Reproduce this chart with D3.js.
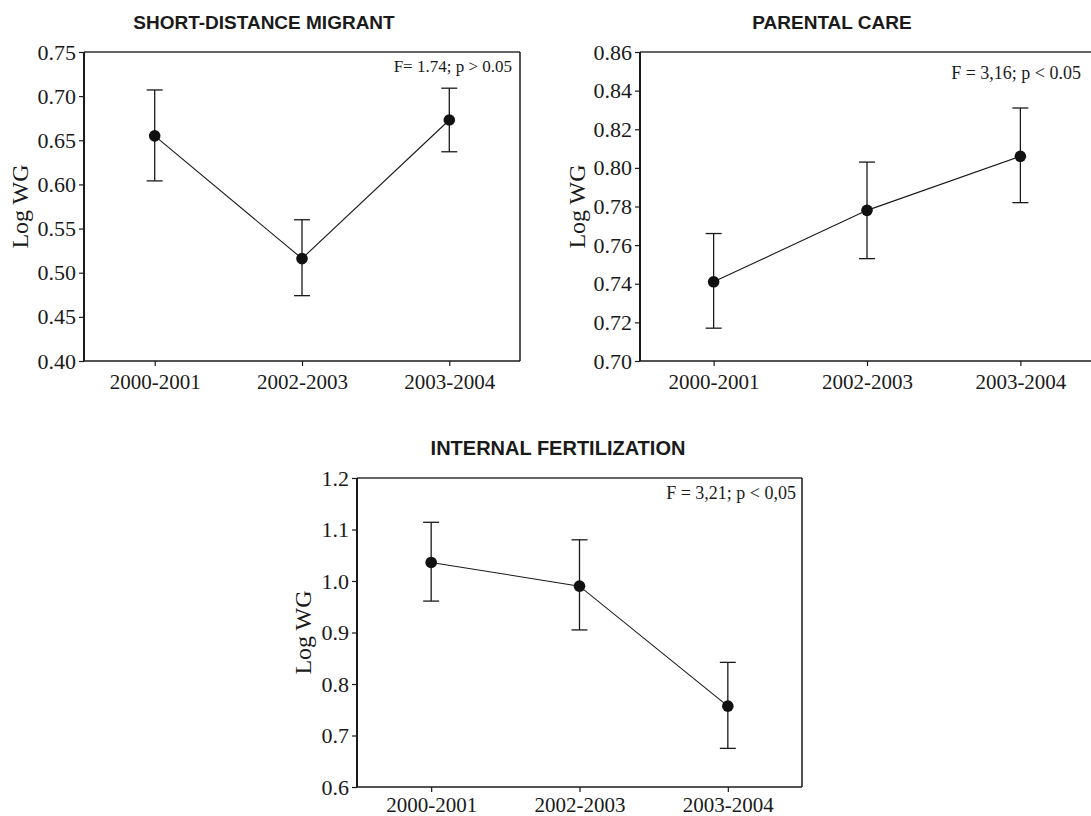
<!DOCTYPE html>
<html>
<head>
<meta charset="utf-8">
<script src="https://cdn.jsdelivr.net/npm/d3@7"></script>
<style>
  body { margin: 0; background: #fff; }
  svg { display: block; }
</style>
</head>
<body>
<div id="vis"></div>
<script>
// periods on the x axis (same for all three panels)
var periods = ["2000-2001", "2002-2003", "2003-2004"];

// short-distance migrant
var migrantMean = [0.655, 0.516, 0.673];
var migrantLow  = [0.604, 0.474, 0.637];
var migrantHigh = [0.707, 0.560, 0.709];
var migrantTicks = [0.40, 0.45, 0.50, 0.55, 0.60, 0.65, 0.70, 0.75];

// parental care
var careMean = [0.741, 0.778, 0.806];
var careLow  = [0.717, 0.753, 0.782];
var careHigh = [0.766, 0.803, 0.831];
var careTicks = [0.70, 0.72, 0.74, 0.76, 0.78, 0.80, 0.82, 0.84, 0.86];

// internal fertilization
var fertMean = [1.036, 0.990, 0.757];
var fertLow  = [0.961, 0.905, 0.675];
var fertHigh = [1.114, 1.080, 0.842];
var fertTicks = [0.6, 0.7, 0.8, 0.9, 1.0, 1.1, 1.2];

var svg = d3.select("#vis").append("svg")
  .attr("width", 1091).attr("height", 816);

var ink = "#1a1a1a";
var serif = "'Liberation Serif', 'Times New Roman', serif";

function drawPanel(opt) {
  var x = d3.scalePoint().domain(periods).range([opt.x0, opt.x1]).padding(opt.pad);
  var y = d3.scaleLinear().domain(d3.extent(opt.ticks)).range([opt.y1, opt.y0]);
  var g = svg.append("g");

  var rows = periods.map(function(p, i) {
    return {p: p, m: opt.mean[i], lo: opt.low[i], hi: opt.high[i]};
  });

  // y axis
  var ya = g.append("g").attr("transform", "translate(" + opt.x0 + ",0)")
    .call(d3.axisLeft(y).tickValues(opt.ticks).tickFormat(d3.format(opt.fmt)).tickSize(5).tickPadding(3));
  ya.attr("font-family", serif).attr("font-size", 22);
  ya.select(".domain").remove();
  ya.selectAll("line").attr("stroke", ink).attr("stroke-width", 1.2);
  ya.selectAll("text").attr("fill", ink);

  // x axis
  var xa = g.append("g").attr("transform", "translate(0," + opt.y1 + ")")
    .call(d3.axisBottom(x).tickSize(5).tickPadding(opt.xpad));
  xa.attr("font-family", serif).attr("font-size", 21);
  xa.select(".domain").remove();
  xa.selectAll("line").attr("stroke", ink).attr("stroke-width", 1.2);
  xa.selectAll("text").attr("fill", ink);

  // frame
  g.append("line").attr("x1", opt.x0).attr("x2", opt.x1).attr("y1", opt.y0).attr("y2", opt.y0)
    .attr("stroke", "#333").attr("stroke-width", 1.5);
  g.append("line").attr("x1", opt.x1).attr("x2", opt.x1).attr("y1", opt.y0).attr("y2", opt.y1)
    .attr("stroke", ink).attr("stroke-width", 1.5);
  g.append("line").attr("x1", opt.x0).attr("x2", opt.x1).attr("y1", opt.y1).attr("y2", opt.y1)
    .attr("stroke", ink).attr("stroke-width", 1.6);
  g.append("line").attr("x1", opt.x0).attr("x2", opt.x0).attr("y1", opt.y0).attr("y2", opt.y1)
    .attr("stroke", ink).attr("stroke-width", 2);

  // error bars
  var eb = g.selectAll(".eb").data(rows).enter().append("g");
  eb.append("line")
    .attr("x1", function(d) { return x(d.p); }).attr("x2", function(d) { return x(d.p); })
    .attr("y1", function(d) { return y(d.lo); }).attr("y2", function(d) { return y(d.hi); })
    .attr("stroke", ink).attr("stroke-width", 1.3);
  ["lo", "hi"].forEach(function(k) {
    eb.append("line")
      .attr("x1", function(d) { return x(d.p) - 8; }).attr("x2", function(d) { return x(d.p) + 8; })
      .attr("y1", function(d) { return y(d[k]); }).attr("y2", function(d) { return y(d[k]); })
      .attr("stroke", ink).attr("stroke-width", 1.3);
  });

  // mean line + points
  g.append("path").datum(rows)
    .attr("d", d3.line().x(function(d) { return x(d.p); }).y(function(d) { return y(d.m); }))
    .attr("fill", "none").attr("stroke", ink).attr("stroke-width", 1.1);
  g.selectAll(".pt").data(rows).enter().append("circle")
    .attr("cx", function(d) { return x(d.p); }).attr("cy", function(d) { return y(d.m); })
    .attr("r", 5.8).attr("fill", "#111");

  // texts
  g.append("text").attr("x", opt.titleX).attr("y", opt.titleY)
    .attr("text-anchor", "middle").attr("font-family", "'Liberation Sans', Arial, sans-serif")
    .attr("font-weight", "bold").attr("font-size", opt.titleSize).attr("fill", ink).text(opt.title);
  g.append("text").attr("x", opt.noteX).attr("y", opt.noteY)
    .attr("text-anchor", "end").attr("font-family", serif)
    .attr("font-size", opt.noteSize).attr("fill", ink).text(opt.note);
  g.append("text")
    .attr("transform", "translate(" + opt.labX + "," + ((opt.y0 + opt.y1) / 2) + ") rotate(-90)")
    .attr("dy", "0.35em").attr("text-anchor", "middle")
    .attr("font-family", serif)
    .attr("font-size", 24).attr("fill", ink).text("Log WG");
}

drawPanel({
  mean: migrantMean, low: migrantLow, high: migrantHigh, ticks: migrantTicks, fmt: ".2f",
  x0: 84, x1: 520, y0: 52, y1: 361, pad: 0.48, xpad: 8,
  title: "SHORT-DISTANCE MIGRANT", titleX: 264, titleY: 29, titleSize: 19,
  note: "F= 1.74; p > 0.05", noteX: 512, noteY: 72, noteSize: 17, labX: 20
});

drawPanel({
  mean: careMean, low: careLow, high: careHigh, ticks: careTicks, fmt: ".2f",
  x0: 640, x1: 1094, y0: 52, y1: 361, pad: 0.48, xpad: 8,
  title: "PARENTAL CARE", titleX: 832, titleY: 29, titleSize: 19,
  note: "F = 3,16; p < 0.05", noteX: 1081, noteY: 79, noteSize: 18, labX: 577
});

drawPanel({
  mean: fertMean, low: fertLow, high: fertHigh, ticks: fertTicks, fmt: ".1f",
  x0: 357, x1: 802, y0: 478, y1: 787, pad: 0.5, xpad: 5,
  title: "INTERNAL FERTILIZATION", titleX: 558, titleY: 455, titleSize: 20,
  note: "F = 3,21; p < 0,05", noteX: 796, noteY: 499, noteSize: 18, labX: 303
});
</script>
</body>
</html>
